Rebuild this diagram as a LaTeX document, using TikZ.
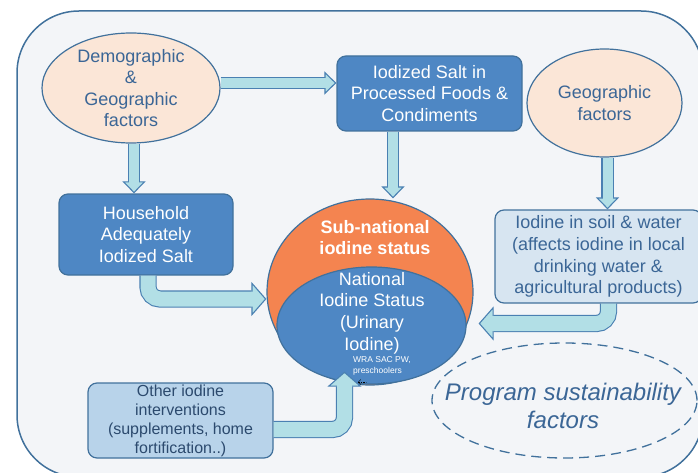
\documentclass[tikz,border=0pt]{standalone}
\usepackage{fontspec}
\setmainfont{Liberation Sans}
\usetikzlibrary{shapes.geometric,arrows.meta}

\definecolor{frameblue}{HTML}{41719C}
\definecolor{panel}{HTML}{F3F5F8}
\definecolor{boxblue}{HTML}{4E87C4}
\definecolor{paleblue}{HTML}{D7E5F1}
\definecolor{skyblue}{HTML}{B8D3EA}
\definecolor{peach}{HTML}{FBE6D7}
\definecolor{suborange}{HTML}{F48450}
\definecolor{arrfill}{HTML}{B2DFE6}
\definecolor{arrline}{HTML}{4A80B2}
\definecolor{inkblue}{HTML}{3B6696}
\definecolor{inknavy}{HTML}{2C4A6E}

\tikzset{
  factor/.style={ellipse, draw=frameblue, line width=1.2pt, fill=peach, inner sep=0pt},
  factortext/.style={text=inkblue, align=center, font=\fontsize{18}{21.5}\selectfont},
  darkbox/.style={rectangle, rounded corners=9pt, draw=frameblue, line width=1.2pt, fill=boxblue,
    text=white, align=center, inner sep=0pt, font=\fontsize{18}{21.7}\selectfont},
  palebox/.style={darkbox, fill=paleblue, text=inkblue},
  flowarrow/.style={draw=arrfill, line width=10pt, shorten >=10.5pt,
    preaction={draw=arrline, line width=12.2pt, shorten >=0pt,
      -{Triangle[length=12pt,width=23pt,fill=arrfill,line width=1.1pt]}}},
  bendarrow/.style={draw=arrfill, line width=15pt, rounded corners=12pt, shorten >=13.5pt,
    preaction={draw=arrline, line width=17.2pt, shorten >=0pt,
      -{Triangle[length=15pt,width=34pt,fill=arrfill,line width=1.1pt]}}},
}

\begin{document}
\begin{tikzpicture}[x=1pt, y=-1pt]
  \useasboundingbox (0,0) rectangle (698,473);
  \clip (0,0) rectangle (698,473);
  \draw[frameblue, line width=1.5pt, fill=panel, rounded corners=62pt] (17,11) rectangle (703,477);

  % factors
  \node[factor, minimum width=178pt, minimum height=110pt] (demo) at (131,88) {};
  \node[factortext] at (demo) {Demographic\\\&\\Geographic\\factors};
  \node[factor, minimum width=155pt, minimum height=108pt] (geo) at (604.5,103) {};
  \node[factortext] at (geo) {Geographic\\factors};

  % boxes
  \node[darkbox, minimum width=185pt, minimum height=75pt] (salt) at (429.5,93.5)
    {Iodized Salt in\\Processed Foods \&\\Condiments};
  \node[darkbox, minimum width=174pt, minimum height=81pt] (house) at (146,234.5)
    {Household\\Adequately\\Iodized Salt};
  \node[palebox, minimum width=207pt, minimum height=93pt] (soil) at (598.5,256.5)
    {Iodine in soil \& water\\(affects iodine in local\\drinking water \&\\agricultural products)};
  \node[palebox, fill=skyblue, text=inknavy, font=\fontsize{16}{19}\selectfont,
    minimum width=185pt, minimum height=75pt] (other) at (180.5,420.5)
    {Other iodine\\interventions\\(supplements, home\\fortification..)};

  % status
  \node[ellipse, draw=frameblue, line width=1.2pt, fill=suborange, minimum width=206pt, minimum height=186pt] (sub) at (370,292) {};
  \node[ellipse, draw=frameblue, line width=1.2pt, fill=boxblue, minimum width=189pt, minimum height=117pt] (nat) at (371.5,325.5) {};
  \node[text=white, align=center, font=\bfseries\fontsize{18}{21.7}\selectfont] at (375,237.5) {Sub-national\\iodine status};
  \node[text=white, align=center, font=\fontsize{18}{21.7}\selectfont] at (372,313) {National\\Iodine Status\\(Urinary\\Iodine)};
  \node[text=white, align=left, anchor=west, inner sep=0pt, font=\fontsize{8.5}{10.5}\selectfont] (wra) at (353,366) {WRA SAC PW,\\preschoolers};
  \coordinate (wratip) at (358,382);
  \draw[line width=0.4pt, dash pattern=on 1.5pt off 1pt, {Straight Barb[length=2.5pt,width=5pt]}-] (wratip) -- ++(8,0);

  % sustainability
  \node[ellipse, draw=frameblue, line width=1.3pt, dash pattern=on 10pt off 6pt,
    minimum width=265pt, minimum height=115pt] (prog) at (564.5,400.5) {};
  \node[text=inkblue, align=center, font=\itshape\fontsize{24}{28}\selectfont] at (563,406) {Program sustainability\\factors};

  % arrows
  \draw[flowarrow] ([yshift=5pt]demo.east) -- ([yshift=5pt]demo.east -| salt.west);
  \draw[flowarrow] ([xshift=3pt]demo.south) -- ([xshift=3pt]demo.south |- house.north);
  \draw[flowarrow] ([xshift=-36.5pt]salt.south) -- ([xshift=-36.5pt]salt.south |- sub.north);
  \draw[flowarrow] ([xshift=3pt]geo.south) -- ([xshift=3pt]geo.south |- soil.north);
  \draw[bendarrow] ([xshift=2pt]house.south) |- ([yshift=-7pt]sub.west);
  \draw[bendarrow] ([xshift=10pt]soil.south) |- ([xshift=12pt,yshift=2pt]nat.east);
  \draw[bendarrow] ([yshift=-9pt]other.east) -| ([xshift=-27pt,yshift=13pt]nat.south);
\end{tikzpicture}
\end{document}
